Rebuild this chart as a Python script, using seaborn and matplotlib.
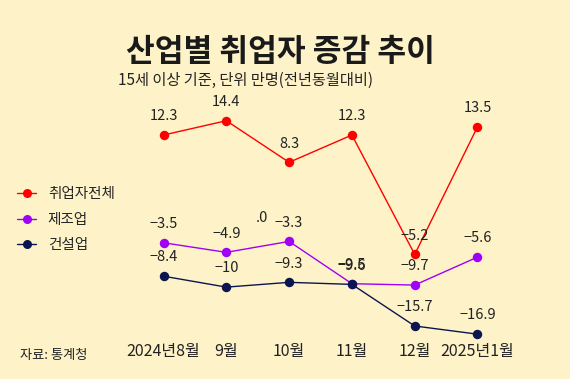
import seaborn as sns
from matplotlib import pyplot as plt
from matplotlib.lines import Line2D
import pandas as pd

MONTHS = ['2024년8월', '9월', '10월', '11월', '12월', '2025년1월']
SERIES = ['취업자전체', '제조업', '건설업']
total = [12.3, 14.4, 8.3, 12.3, -5.2, 13.5]
manufacturing = [-3.5, -4.9, -3.3, -9.5, -9.7, -5.6]
construction = [-8.4, -10, -9.3, -9.6, -15.7, -16.9]
COLORS = ['#ff0000', '#a000f5', '#0b1650']
BG = '#fef3c8'

sns.set_theme(style='white')
plt.rcParams['font.family'] = ['Noto Sans CJK KR', 'DejaVu Sans']
plt.rcParams['axes.unicode_minus'] = True

df = pd.DataFrame({
    'month': list(range(len(MONTHS))) * 3,
    'value': total + manufacturing + construction,
    'series': [s for s in SERIES for _ in MONTHS],
})

fig = plt.figure(figsize=(5.7, 3.79), dpi=100, facecolor=BG)
ax = fig.add_axes([0.2318, 0.0625, 0.661, 0.6478])
ax.set_facecolor(BG)

sns.lineplot(data=df, x='month', y='value', hue='series', hue_order=SERIES,
             palette=COLORS, marker='o', markersize=6.8, markeredgewidth=0,
             linewidth=1, legend=False, ax=ax)

def fmt(v):
    s = f'{abs(v):g}'
    return ('\u2212' + s) if v < 0 else s

for vals in (total, manufacturing, construction):
    for i, v in enumerate(vals):
        ax.annotate(fmt(v), (i, v), xytext=(0, 13.5), textcoords='offset points',
                    ha='center', va='center', fontsize=10.5, color='#222222')
ax.text(1.57, 0.1, '.0', ha='center', va='center', fontsize=10.5, color='#222222')

ax.set_xlim(-0.5, 5.5)
ax.set_ylim(-20, 16)
ax.set_xticks(range(len(MONTHS)))
ax.set_xticklabels(MONTHS, fontsize=11.5, color='#222222')
ax.tick_params(axis='x', length=0, pad=-9)
ax.set_yticks([])
ax.set_xlabel('')
ax.set_ylabel('')
for sp in ax.spines.values():
    sp.set_visible(False)

fig.text(0.492, 0.862, '산업별 취업자 증감 추이', ha='center', va='center',
         fontsize=22.5, fontweight='bold', color='#1a1a1a')
fig.text(0.207, 0.787, '15세 이상 기준, 단위 만명(전년동월대비)', ha='left', va='center',
         fontsize=11, color='#222222')
fig.text(0.035, 0.063, '자료: 통계청', ha='left', va='center', fontsize=9.5, color='#222222')

handles = [Line2D([0], [0], color=c, linewidth=1, marker='o', markersize=6.5,
                  markeredgewidth=0) for c in COLORS]
fig.legend(handles, SERIES, loc='upper left', bbox_to_anchor=(0.02, 0.521),
           frameon=False, fontsize=10.5, handlelength=1.3, handletextpad=0.8,
           labelspacing=0.78, borderaxespad=0)

fig.savefig('out.png', dpi=100, facecolor=BG)
